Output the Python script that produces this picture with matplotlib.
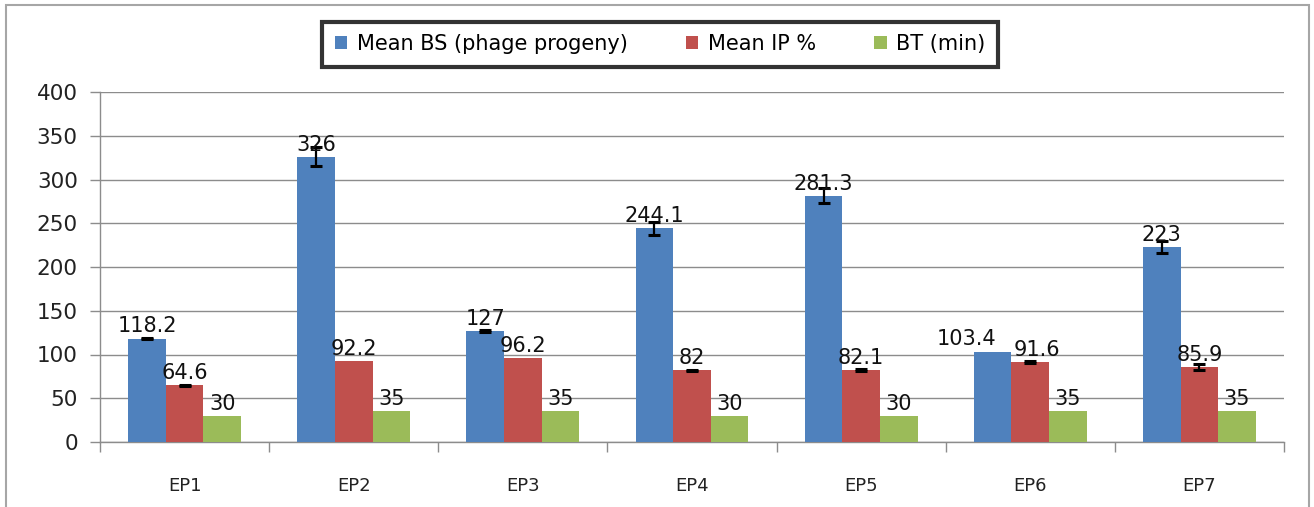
import numpy as np
import matplotlib.pyplot as plt
from matplotlib.patches import Rectangle

categories = ["EP1", "EP2", "EP3", "EP4", "EP5", "EP6", "EP7"]
series_names = ["Mean BS (phage progeny)", "Mean IP %", "BT (min)"]

mean_bs = [118.2, 326, 127, 244.1, 281.3, 103.4, 223]
mean_ip = [64.6, 92.2, 96.2, 82, 82.1, 91.6, 85.9]
bt_min = [30, 35, 35, 30, 30, 35, 35]

# error bars (BT has none)
err_bs = [1.0, 11.0, 1.0, 7.5, 8.5, 0.0, 6.5]
err_ip = [1.0, 0.0, 0.0, 0.6, 0.8, 1.0, 3.8]

colors = ["#4F81BD", "#C0504D", "#9BBB59"]

# labels that were nudged sideways in the original (series, category) -> points
label_nudge = {(0, 5): -19, (1, 5): 5}

fig = plt.figure(figsize=(13.14, 5.07), dpi=100)
ax = fig.add_axes([100 / 1314, 1 - 442 / 507, 1184 / 1314, 350 / 507])

x = np.arange(len(categories))
w = 1 / 4.5

data = [mean_bs, mean_ip, bt_min]
errs = [err_bs, err_ip, None]

handles = []
for i, (vals, err, name, col) in enumerate(zip(data, errs, series_names, colors)):
    pos = x + (i - 1) * w
    b = ax.bar(pos, vals, width=w, color=col, label=name, zorder=3)
    handles.append(b)
    if err is not None:
        for p, v, e in zip(pos, vals, err):
            if e > 0:
                ax.errorbar(p, v, yerr=e, fmt="none", ecolor="black",
                            elinewidth=1.6, capsize=4.5, capthick=2.2, zorder=4)
    for j, (p, v) in enumerate(zip(pos, vals)):
        dx = label_nudge.get((i, j), 0)
        ax.annotate(f"{v:g}", (p, v), xytext=(dx, 1.5), textcoords="offset points",
                    ha="center", va="bottom", fontsize=15, color="#111111", zorder=5)

ax.set_ylim(0, 400)
ax.set_yticks(np.arange(0, 401, 50))
ax.set_xlim(-0.5, len(categories) - 0.5)
ax.yaxis.grid(True, color="#8c8c8c", linewidth=1.0, zorder=0)
ax.set_axisbelow(True)

ax.set_xticks(x)
ax.set_xticklabels(categories, fontsize=13, color="#222222")
ax.set_xticks(np.arange(-0.5, len(categories), 1), minor=True)
ax.tick_params(axis="x", which="major", length=0, pad=25)
ax.tick_params(axis="x", which="minor", length=7, color="#8c8c8c", width=1.0)
ax.tick_params(axis="y", length=7, color="#8c8c8c", width=1.0, pad=9,
               labelsize=15.5, labelcolor="#222222")

for s in ["top", "right"]:
    ax.spines[s].set_visible(False)
for s in ["left", "bottom"]:
    ax.spines[s].set_color("#8c8c8c")
    ax.spines[s].set_linewidth(1.0)

leg = fig.legend(handles=handles, loc="center", bbox_to_anchor=(660 / 1314, 1 - 44 / 507),
                 ncol=3, fontsize=15, frameon=True, fancybox=False,
                 handlelength=0.6, handleheight=0.6, handletextpad=0.45,
                 columnspacing=2.8, borderpad=0.6, borderaxespad=0)
leg.get_frame().set_edgecolor("black")
leg.get_frame().set_linewidth(3)

fig.patches.append(Rectangle((6 / 1314, -0.1), 1303 / 1314, 1.1 - 5 / 507,
                             transform=fig.transFigure, fill=False,
                             edgecolor="#a6a6a6", linewidth=1.5))

fig.savefig("out.png", dpi=100)
